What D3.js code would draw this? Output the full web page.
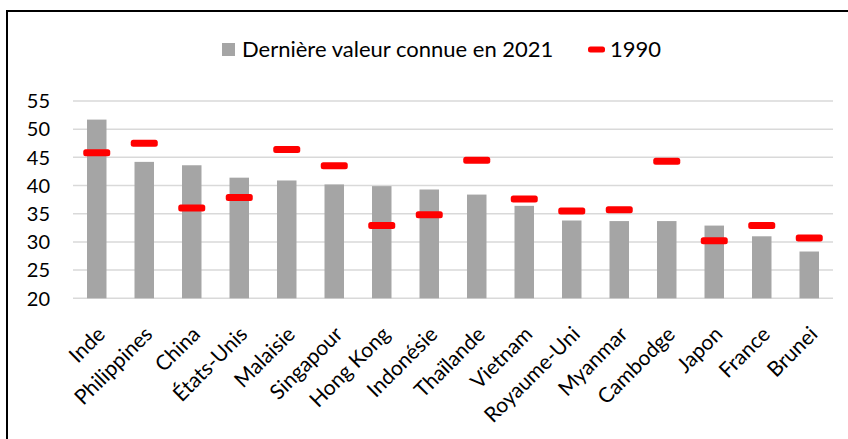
<!DOCTYPE html>
<html>
<head>
    <meta charset="utf-8">
    <title>Dernière valeur connue en 2021 vs 1990</title>
    <script src="https://d3js.org/d3.v7.min.js"></script>
    <style>
        body { margin: 0; overflow: hidden; background: #fff; }
        text { font-family: Lato, "Open Sans", sans-serif; fill: #000; }
    </style>
</head>
<body>
<script>
    // data
    var countries = ["Inde", "Philippines", "China", "États-Unis", "Malaisie", "Singapour",
        "Hong Kong", "Indonésie", "Thaïlande", "Vietnam", "Royaume-Uni", "Myanmar",
        "Cambodge", "Japon", "France", "Brunei"];
    var val2021 = [51.7, 44.2, 43.6, 41.4, 40.9, 40.2, 39.9, 39.3, 38.4, 36.4, 33.8, 33.7, 33.7, 32.9, 31.0, 28.3];
    var val1990 = [45.8, 47.5, 36.0, 37.9, 46.4, 43.5, 32.9, 34.8, 44.5, 37.6, 35.5, 35.7, 44.3, 30.2, 32.9, 30.7];
    var yTicks = [20, 25, 30, 35, 40, 45, 50, 55];
    var legendLabels = ["Dernière valeur connue en 2021", "1990"];

    var W = 848, H = 439;
    var svg = d3.select("body").append("svg")
        .attr("width", W)
        .attr("height", H);

    // outer frame (cut by the window on the right and bottom)
    svg.append("rect")
        .attr("x", 7).attr("y", 11)
        .attr("width", 900).attr("height", 500)
        .attr("fill", "none")
        .attr("stroke", "#000")
        .attr("stroke-width", 2);

    var x = d3.scaleBand()
        .domain(countries)
        .range([73, 833])
        .padding(0);

    var y = d3.scaleLinear()
        .domain([20, 55])
        .range([298.3, 101]);

    var cx = function(d) { return x(d) + x.bandwidth() / 2; };
    var barW = 19.5, markW = 27, markH = 7;

    // gridlines
    svg.selectAll(".grid")
        .data(yTicks)
      .enter().append("line")
        .attr("class", "grid")
        .attr("x1", 73).attr("x2", 833)
        .attr("y1", function(d) { return y(d); })
        .attr("y2", function(d) { return y(d); })
        .attr("stroke", "#d9d9d9")
        .attr("stroke-width", 1.5);

    // y labels
    svg.selectAll(".ylab")
        .data(yTicks)
      .enter().append("text")
        .attr("class", "ylab")
        .attr("x", 50)
        .attr("y", function(d) { return y(d); })
        .attr("dy", "0.36em")
        .attr("text-anchor", "end")
        .style("font-size", "20px")
        .text(function(d) { return d; });

    // bars 2021
    svg.selectAll(".bar")
        .data(countries)
      .enter().append("rect")
        .attr("class", "bar")
        .attr("x", function(d) { return cx(d) - barW / 2; })
        .attr("width", barW)
        .attr("y", function(d, i) { return y(val2021[i]); })
        .attr("height", function(d, i) { return y(20) - y(val2021[i]); })
        .attr("fill", "#a5a5a5");

    // 1990 markers
    svg.selectAll(".mark")
        .data(countries)
      .enter().append("rect")
        .attr("class", "mark")
        .attr("x", function(d) { return cx(d) - markW / 2; })
        .attr("width", markW)
        .attr("y", function(d, i) { return y(val1990[i]) - markH / 2; })
        .attr("height", markH)
        .attr("rx", 2.5)
        .attr("fill", "#ff0000");

    // x labels, rotated
    svg.selectAll(".xlab")
        .data(countries)
      .enter().append("text")
        .attr("class", "xlab")
        .attr("transform", function(d) { return "translate(" + (cx(d) - 1) + ",325) rotate(-45)"; })
        .attr("dy", "0.71em")
        .attr("text-anchor", "end")
        .style("font-size", "21px")
        .text(function(d) { return d; });

    // legend
    var lg = svg.append("g");
    lg.append("rect")
        .attr("x", 222).attr("y", 43)
        .attr("width", 13).attr("height", 13)
        .attr("fill", "#a5a5a5");
    lg.append("text")
        .attr("x", 242).attr("y", 57)
        .style("font-size", "22px")
        .text(legendLabels[0]);
    lg.append("rect")
        .attr("x", 588).attr("y", 46.5)
        .attr("width", 17).attr("height", 6)
        .attr("rx", 2.5)
        .attr("fill", "#ff0000");
    lg.append("text")
        .attr("x", 610).attr("y", 57)
        .style("font-size", "22px")
        .text(legendLabels[1]);
</script>
</body>
</html>
